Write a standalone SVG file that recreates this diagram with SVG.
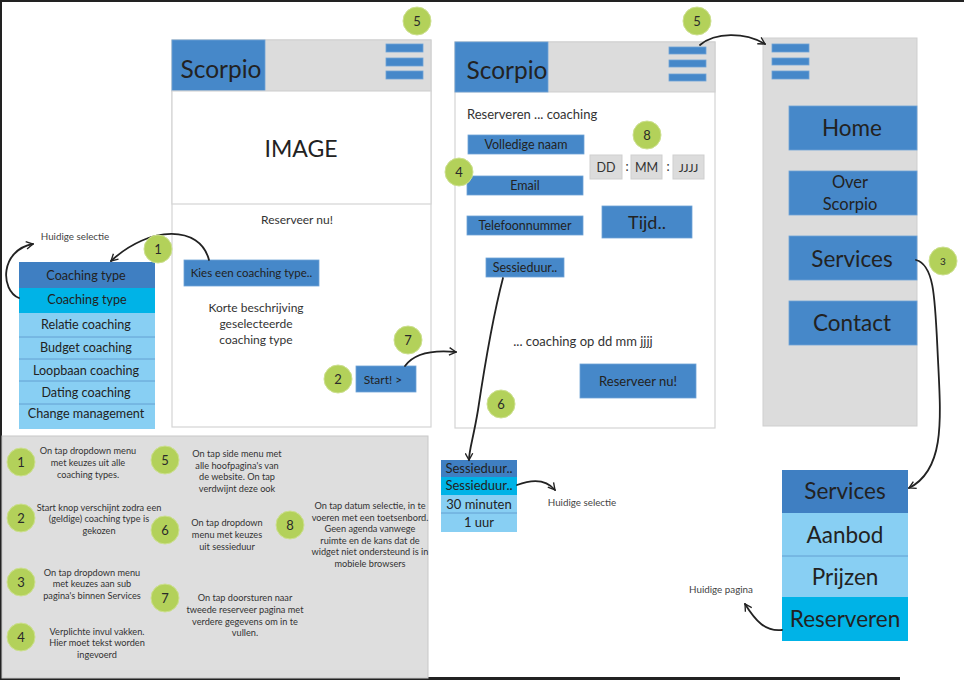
<svg xmlns="http://www.w3.org/2000/svg" width="964" height="680" viewBox="0 0 964 680">
<defs>
<style>
text{font-family:Lato,"Open Sans","Liberation Sans",sans-serif;fill:#222;text-anchor:middle}
.frame{fill:#fff;stroke:#d4d4d4;stroke-width:1.2}
.gray{fill:#dcdcdc;stroke:#cfcfcf;stroke-width:1}
.btn{fill:#4688c9;stroke:#6ea3d6;stroke-width:0.8}
.hdr{fill:#3f7fc2}
.sel{fill:#00b3e7}
.opt{fill:#88cff3}
.sep{stroke:#5c95c9;stroke-width:0.8}
.badge{fill:#b3d15a;stroke:#cde090;stroke-width:1}
.num{font-size:13px;fill:#2a2a2a}
.leg{font-size:9.2px;fill:#333}
.note{font-size:9.8px;fill:#444}
.dd{font-size:12.6px}
.sd{font-size:13px}
.conn path{fill:none;stroke:#222;stroke-width:1.8;stroke-linecap:round}
</style>
<marker id="ah" viewBox="0 0 12 12" refX="10" refY="6" markerWidth="9" markerHeight="9" markerUnits="userSpaceOnUse" orient="auto">
<path d="M1,1 L10,6 L1,11" fill="none" stroke="#222" stroke-width="1.8"/>
</marker>
</defs>
<rect x="0" y="0" width="964" height="680" fill="#fff"/>
<rect x="0" y="0" width="964" height="2" fill="#222"/>
<rect x="0" y="0" width="2" height="680" fill="#222"/>
<rect x="0" y="677" width="900" height="3" fill="#222"/>

<g id="phone1">
<rect class="frame" x="172" y="40" width="259" height="387"/>
<rect class="gray" x="172" y="40" width="259" height="51"/>
<rect class="btn" x="172" y="40" width="93" height="51"/>
<text x="221" y="78" style="font-size:24.5px">Scorpio</text>
<rect class="btn" x="386" y="44" width="37" height="8"/>
<rect class="btn" x="386" y="58" width="37" height="8"/>
<rect class="btn" x="386" y="71" width="37" height="8"/>
<rect class="frame" x="172" y="91" width="259" height="113"/>
<text x="301" y="157" style="font-size:23px">IMAGE</text>
<text x="297" y="224" style="font-size:12px;fill:#333">Reserveer nu!</text>
<rect class="btn" x="184" y="260" width="135" height="26"/>
<text x="251.5" y="277" style="font-size:11.5px">Kies een coaching type..</text>
<text x="256" y="312" style="font-size:12px;fill:#333">Korte beschrijving</text>
<text x="256" y="328" style="font-size:12px;fill:#333">geselecteerde</text>
<text x="256" y="344" style="font-size:12px;fill:#333">coaching type</text>
<rect class="btn" x="356" y="366" width="60" height="26"/>
<text x="383" y="384" style="font-size:12px">Start! &gt;</text>
</g>

<g id="phone2">
<rect class="frame" x="455" y="42" width="260" height="386"/>
<rect class="gray" x="455" y="42" width="260" height="50"/>
<rect class="btn" x="455" y="42" width="93" height="50"/>
<text x="507" y="79" style="font-size:24.5px">Scorpio</text>
<rect class="btn" x="669" y="47" width="37" height="7"/>
<rect class="btn" x="669" y="60" width="37" height="7"/>
<rect class="btn" x="669" y="74" width="37" height="7"/>
<text x="467" y="119" style="font-size:13px;fill:#333;text-anchor:start">Reserveren ... coaching</text>
<rect class="btn" x="468" y="135" width="116" height="19"/>
<text x="526" y="149" style="font-size:12.5px">Volledige naam</text>
<rect class="btn" x="467" y="176" width="116" height="19"/>
<text x="525" y="190" style="font-size:12.5px">Email</text>
<rect class="btn" x="467" y="216" width="116" height="19"/>
<text x="525" y="230" style="font-size:12.5px">Telefoonnummer</text>
<rect class="btn" x="486" y="258" width="78" height="19"/>
<text x="525" y="272" style="font-size:12.5px">Sessieduur..</text>
<rect class="btn" x="602" y="206" width="90" height="32"/>
<text x="647" y="229" style="font-size:18px">Tijd..</text>
<rect class="gray" x="590" y="155" width="32" height="24"/>
<text x="606" y="172" style="font-size:12.5px;fill:#333">DD</text>
<text x="627" y="171" style="font-size:12.5px;fill:#333">:</text>
<rect class="gray" x="631" y="155" width="31" height="24"/>
<text x="646.5" y="172" style="font-size:12.5px;fill:#333">MM</text>
<text x="668" y="171" style="font-size:12.5px;fill:#333">:</text>
<rect class="gray" x="673" y="155" width="31" height="24"/>
<text x="688.5" y="172" style="font-size:12px;fill:#333">JJJJ</text>
<text x="583" y="346" style="font-size:13px;fill:#333">... coaching op dd mm jjjj</text>
<rect class="btn" x="580" y="364" width="116" height="34"/>
<text x="638" y="386" style="font-size:13px">Reserveer nu!</text>
</g>

<g id="sidemenu">
<rect class="gray" x="763" y="38" width="154" height="388"/>
<rect class="btn" x="772" y="44" width="37" height="8"/>
<rect class="btn" x="772" y="58" width="37" height="7"/>
<rect class="btn" x="772" y="71" width="37" height="8"/>
<rect class="btn" x="789" y="106" width="128" height="44"/>
<text x="852" y="136" style="font-size:22.5px">Home</text>
<rect class="btn" x="789" y="171" width="128" height="44"/>
<text x="850" y="188" style="font-size:16.5px">Over</text>
<text x="850" y="210" style="font-size:16.5px">Scorpio</text>
<rect class="btn" x="789" y="236" width="128" height="44"/>
<text x="852" y="267" style="font-size:22.5px">Services</text>
<rect class="btn" x="789" y="301" width="128" height="44"/>
<text x="852" y="331" style="font-size:22.5px">Contact</text>
</g>

<g id="dropdown-coaching">
<rect class="hdr" x="19" y="262" width="136" height="26"/>
<rect class="sel" x="19" y="288" width="136" height="25"/>
<rect class="opt" x="19" y="313" width="136" height="116"/>
<line class="sep" x1="19" y1="337" x2="155" y2="337"/>
<line class="sep" x1="19" y1="359" x2="155" y2="359"/>
<line class="sep" x1="19" y1="381" x2="155" y2="381"/>
<line class="sep" x1="19" y1="404" x2="155" y2="404"/>
<text class="dd" x="86" y="280">Coaching type</text>
<text class="dd" x="87" y="304">Coaching type</text>
<text class="dd" x="86" y="329">Relatie coaching</text>
<text class="dd" x="86" y="352">Budget coaching</text>
<text class="dd" x="86" y="375">Loopbaan coaching</text>
<text class="dd" x="86" y="397">Dating coaching</text>
<text class="dd" x="86" y="418">Change management</text>
<text x="75" y="240" class="note">Huidige selectie</text>
</g>

<g id="dropdown-sessieduur">
<rect class="hdr" x="441" y="460" width="76" height="17"/>
<rect class="sel" x="441" y="477" width="76" height="18"/>
<rect class="opt" x="441" y="495" width="76" height="37"/>
<line class="sep" x1="441" y1="513" x2="517" y2="513"/>
<text class="sd" x="479" y="473">Sessieduur..</text>
<text class="sd" x="479" y="490">Sessieduur..</text>
<text class="sd" x="479" y="509">30 minuten</text>
<text class="sd" x="479" y="527">1 uur</text>
<text x="582" y="506" class="note">Huidige selectie</text>
</g>

<g id="dropdown-services">
<rect class="hdr" x="782" y="470" width="126" height="43"/>
<rect class="opt" x="782" y="513" width="126" height="84"/>
<line class="sep" x1="782" y1="556" x2="908" y2="556"/>
<rect class="sel" x="782" y="597" width="126" height="44"/>
<text x="845" y="499" style="font-size:22.5px">Services</text>
<text x="845" y="543" style="font-size:22.5px">Aanbod</text>
<text x="845" y="585" style="font-size:22.5px">Prijzen</text>
<text x="845" y="627" style="font-size:22.5px">Reserveren</text>
<text x="721" y="593" class="note">Huidige pagina</text>
</g>

<g id="legend">
<rect x="2" y="436" width="426" height="242" fill="#dedede" stroke="#c8c8c8" stroke-width="1"/>
<circle class="badge" cx="21" cy="462" r="14"/><text class="num" x="21" y="467">1</text>
<text class="leg" x="88" y="454">On tap dropdown menu</text>
<text class="leg" x="88" y="466">met keuzes uit alle</text>
<text class="leg" x="88" y="478">coaching types.</text>
<circle class="badge" cx="165" cy="460" r="14"/><text class="num" x="165" y="465">5</text>
<text class="leg" x="237" y="457">On tap side menu met</text>
<text class="leg" x="237" y="469">alle hoofpagina's van</text>
<text class="leg" x="237" y="480">de website. On tap</text>
<text class="leg" x="237" y="492">verdwijnt deze ook</text>
<circle class="badge" cx="21" cy="518" r="14"/><text class="num" x="21" y="523">2</text>
<text class="leg" x="99" y="511">Start knop verschijnt zodra een</text>
<text class="leg" x="99" y="522">(geldige) coaching type is</text>
<text class="leg" x="99" y="534">gekozen</text>
<circle class="badge" cx="165" cy="530" r="14"/><text class="num" x="165" y="535">6</text>
<text class="leg" x="227" y="526">On tap dropdown</text>
<text class="leg" x="227" y="538">menu met keuzes</text>
<text class="leg" x="227" y="550">uit sessieduur</text>
<circle class="badge" cx="290" cy="525" r="14"/><text class="num" x="290" y="530">8</text>
<text class="leg" x="370" y="509">On tap datum selectie, in te</text>
<text class="leg" x="370" y="521">voeren met een toetsenbord.</text>
<text class="leg" x="370" y="532">Geen agenda vanwege</text>
<text class="leg" x="370" y="544">ruimte en de kans dat de</text>
<text class="leg" x="370" y="555">widget niet ondersteund is in</text>
<text class="leg" x="370" y="567">mobiele browsers</text>
<circle class="badge" cx="21" cy="582" r="14"/><text class="num" x="21" y="587">3</text>
<text class="leg" x="92" y="576">On tap dropdown menu</text>
<text class="leg" x="92" y="587">met keuzes aan sub</text>
<text class="leg" x="92" y="599">pagina's binnen Services</text>
<circle class="badge" cx="165" cy="598" r="14"/><text class="num" x="165" y="603">7</text>
<text class="leg" x="245" y="601">On tap doorsturen naar</text>
<text class="leg" x="245" y="613">tweede reserveer pagina met</text>
<text class="leg" x="245" y="625">verdere gegevens om in te</text>
<text class="leg" x="245" y="636">vullen.</text>
<circle class="badge" cx="21" cy="637" r="14"/><text class="num" x="21" y="642">4</text>
<text class="leg" x="97" y="635">Verplichte invul vakken.</text>
<text class="leg" x="97" y="646">Hier moet tekst worden</text>
<text class="leg" x="97" y="658">ingevoerd</text>
</g>

<g id="connectors" class="conn">
<path d="M209,260 C200,225 150,225 111,261" marker-end="url(#ah)"/>
<path d="M19,298 C0,290 0,250 33,244" marker-end="url(#ah)"/>
<path d="M405,366 C415,352 435,350 456,352" marker-end="url(#ah)"/>
<path d="M700,45 C715,32 745,32 765,44" marker-end="url(#ah)"/>
<path d="M503,278 C492,320 484,370 478,410 C473,440 469,450 469,460" marker-end="url(#ah)"/>
<path d="M517,485 C530,480 545,478 555,490" marker-end="url(#ah)"/>
<path d="M916,260 C935,265 935,300 938,360 C941,420 945,470 909,488" marker-end="url(#ah)"/>
<path d="M782,630 C765,632 755,620 745,604" marker-end="url(#ah)"/>
</g>

<g id="badges">
<circle class="badge" cx="417" cy="21" r="14"/><text class="num" x="417" y="26">5</text>
<circle class="badge" cx="697" cy="21" r="14"/><text class="num" x="697" y="26">5</text>
<circle class="badge" cx="647" cy="135" r="14"/><text class="num" x="647" y="140">8</text>
<circle class="badge" cx="459" cy="172" r="14"/><text class="num" x="459" y="177">4</text>
<circle class="badge" cx="501" cy="404" r="14"/><text class="num" x="501" y="409">6</text>
<circle class="badge" cx="158" cy="249" r="14"/><text class="num" x="158" y="254">1</text>
<circle class="badge" cx="338" cy="379" r="14"/><text class="num" x="338" y="384">2</text>
<circle class="badge" cx="408" cy="340" r="14"/><text class="num" x="408" y="345">7</text>
<circle class="badge" cx="943" cy="261" r="14"/><text class="num" x="943" y="265" style="font-size:10px">3</text>
</g>
</svg>
